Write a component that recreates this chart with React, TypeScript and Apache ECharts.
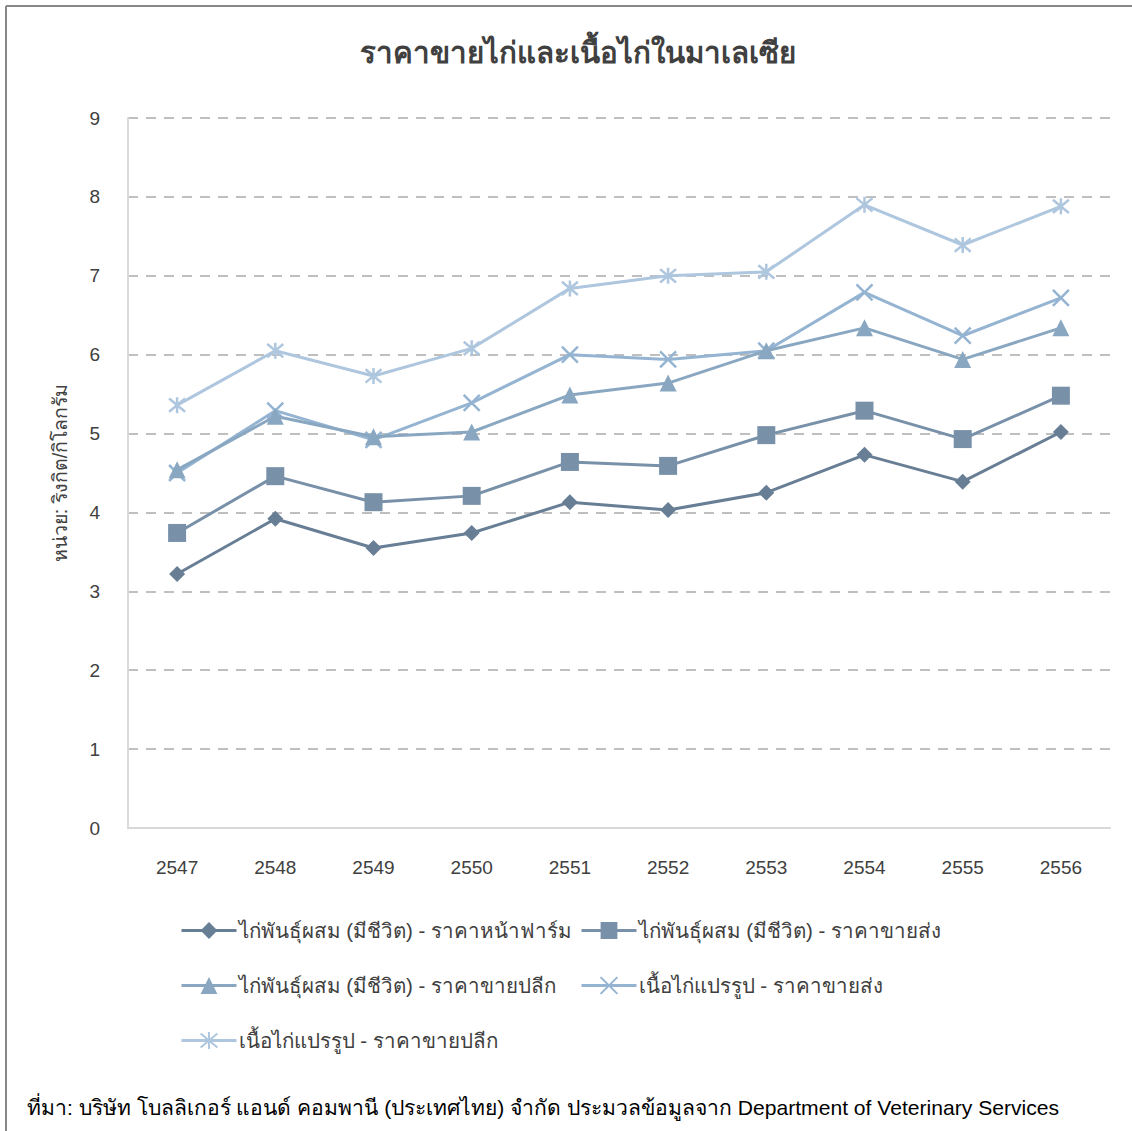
import React, { useEffect, useRef } from "react";
import * as echarts from "echarts";

const categories = ["2547", "2548", "2549", "2550", "2551", "2552", "2553", "2554", "2555", "2556"];
const seriesNames = [
  "ไก่พันธุ์ผสม (มีชีวิต) - ราคาหน้าฟาร์ม",
  "ไก่พันธุ์ผสม (มีชีวิต) - ราคาขายส่ง",
  "ไก่พันธุ์ผสม (มีชีวิต) - ราคาขายปลีก",
  "เนื้อไก่แปรรูป - ราคาขายส่ง",
  "เนื้อไก่แปรรูป - ราคาขายปลีก",
];
const farmLive = [3.22, 3.92, 3.55, 3.74, 4.13, 4.03, 4.25, 4.73, 4.39, 5.02];
const wholesaleLive = [3.74, 4.46, 4.13, 4.21, 4.64, 4.59, 4.98, 5.29, 4.93, 5.48];
const retailLive = [4.54, 5.22, 4.96, 5.02, 5.49, 5.64, 6.05, 6.34, 5.94, 6.34];
const wholesaleMeat = [4.5, 5.29, 4.92, 5.39, 6.0, 5.94, 6.05, 6.79, 6.24, 6.72];
const retailMeat = [5.36, 6.05, 5.73, 6.08, 6.84, 7.0, 7.05, 7.9, 7.39, 7.88];
const yTicks = [0, 9, 1];

const FONT = "'Liberation Sans', Arial, 'Noto Sans', sans-serif";
const colors = ["#687e95", "#7891a9", "#89a7c1", "#94b4d2", "#aec6de"];

const xPath = "path://M0,0 L20,20 M20,0 L0,20";
const starPath = "path://M0,0 L20,20 M20,0 L0,20 M10,-2 L10,22";

export default function App() {
  const ref = useRef<HTMLDivElement>(null);
  useEffect(() => {
    if (!ref.current) return;
    const chart = echarts.init(ref.current, null, { renderer: "svg" });
    const data = [farmLive, wholesaleLive, retailLive, wholesaleMeat, retailMeat];
    const symbols = ["diamond", "rect", "triangle", xPath, starPath];
    const sizes = [16, 18, 17, 16, 16];
    const series = data.map((d, i) => {
      const stroked = i >= 3;
      return {
        name: seriesNames[i],
        type: "line",
        data: d,
        color: colors[i],
        symbol: symbols[i],
        symbolSize: sizes[i],
        showSymbol: true,
        lineStyle: { color: colors[i], width: 3 },
        itemStyle: stroked
          ? { color: "rgba(0,0,0,0)", borderColor: colors[i], borderWidth: 2.5 }
          : { color: colors[i] },
        z: 10 - i,
      };
    });
    const legendPos = [
      [180, 920],
      [580, 920],
      [180, 975],
      [580, 975],
      [180, 1030],
    ];
    const legends = seriesNames.map((n, i) => ({
      data: [n],
      left: legendPos[i][0],
      top: legendPos[i][1],
      itemWidth: 55,
      itemHeight: 21,
      itemGap: 2,
      padding: 0,
      lineStyle: { width: 3 },
      textStyle: { fontSize: 20.5, color: "#404040", fontFamily: FONT, padding: [0, 0, 0, -3] },
      selectedMode: false,
    }));
    chart.setOption({
      animation: false,
      backgroundColor: "#ffffff",
      title: {
        text: "ราคาขายไก่และเนื้อไก่ในมาเลเซีย",
        left: 355,
        top: 32,
        textStyle: { fontSize: 29.5, fontWeight: "bold", color: "#404040", fontFamily: FONT },
      },
      legend: legends,
      grid: { left: 128, top: 118, right: 22, bottom: 303, containLabel: false },
      xAxis: {
        type: "category",
        data: categories,
        boundaryGap: true,
        axisLine: { show: true, lineStyle: { color: "#d9d9d9", width: 2 } },
        axisTick: { show: false },
        axisLabel: { fontSize: 19, color: "#404040", margin: 30, fontFamily: FONT },
      },
      yAxis: {
        type: "value",
        min: yTicks[0],
        max: yTicks[1],
        interval: yTicks[2],
        name: "หน่วย: ริงกิต/กิโลกรัม",
        nameLocation: "middle",
        nameRotate: 90,
        nameGap: 58,
        nameTextStyle: { fontSize: 19.5, color: "#404040", fontFamily: FONT },
        axisLine: { show: true, lineStyle: { color: "#d9d9d9", width: 2 } },
        axisTick: { show: false },
        axisLabel: { fontSize: 19, color: "#404040", margin: 28, fontFamily: FONT },
        splitLine: { show: true, lineStyle: { color: "#bfbfbf", type: [10, 8], width: 2 } },
      },
      series,
      graphic: [
        { type: "line", shape: { x1: 6, y1: 6, x2: 1132, y2: 6 }, style: { stroke: "#888888", lineWidth: 2 } },
        { type: "line", shape: { x1: 6, y1: 6, x2: 6, y2: 1131 }, style: { stroke: "#888888", lineWidth: 2 } },
        {
          type: "text",
          left: 27,
          top: 1097,
          style: {
            text: "ที่มา: บริษัท โบลลิเกอร์ แอนด์ คอมพานี (ประเทศไทย) จำกัด ประมวลข้อมูลจาก Department of Veterinary Services",
            fontSize: 21.1,
            fill: "#000000",
            fontFamily: FONT,
          },
        },
      ],
    });
    return () => chart.dispose();
  }, []);
  return (
    <div
      ref={ref}
      style={{ position: "absolute", left: 0, top: 0, width: 1132, height: 1131 }}
    />
  );
}
